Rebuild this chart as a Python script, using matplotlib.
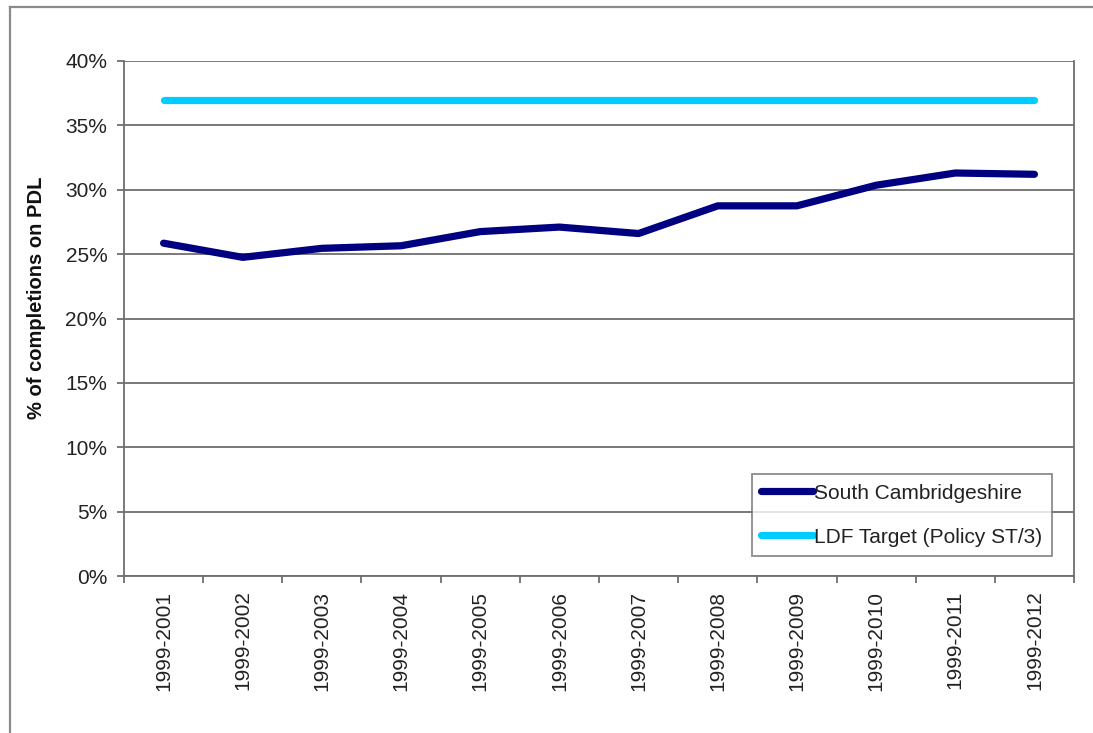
import matplotlib
matplotlib.use("Agg")
import matplotlib.pyplot as plt
from matplotlib.lines import Line2D
from matplotlib.ticker import FixedLocator, FuncFormatter

plt.rcParams['font.family'] = ['Liberation Sans', 'DejaVu Sans']

# Cumulative periods and share of completions on previously developed land
periods = ["1999-2001", "1999-2002", "1999-2003", "1999-2004", "1999-2005",
           "1999-2006", "1999-2007", "1999-2008", "1999-2009", "1999-2010",
           "1999-2011", "1999-2012"]
south_cambs = [25.85, 24.75, 25.45, 25.65, 26.75, 27.1, 26.6, 28.75, 28.75,
               30.35, 31.3, 31.2]
ldf_target = [37.0] * len(periods)
y_ticks = [0, 5, 10, 15, 20, 25, 30, 35, 40]

W, H = 1093, 733
fig = plt.figure(figsize=(W / 100, H / 100), dpi=100)
ax = fig.add_axes([124 / W, 1 - 576 / H, (1074 - 124) / W, (576 - 61) / H])

x = list(range(len(periods)))
grid_col = "#6e6e6e"
text_col = "#222222"

ax.plot(x, south_cambs, color="#000080", lw=5.2, solid_capstyle="round",
        solid_joinstyle="round", label="South Cambridgeshire", zorder=3)
ax.plot(x, ldf_target, color="#00CCFF", lw=5.2, solid_capstyle="round",
        label="LDF Target (Policy ST/3)", zorder=3)

ax.set_xlim(-0.5, len(periods) - 0.5)
ax.set_ylim(0, 40)
ax.set_yticks(y_ticks)
ax.yaxis.set_major_formatter(FuncFormatter(lambda v, p: f"{v:.0f}%"))
ax.grid(axis="y", color=grid_col, lw=1.3, zorder=1)

ax.set_xticks(x)
ax.set_xticklabels(periods, rotation=90)
ax.xaxis.set_minor_locator(FixedLocator([i - 0.5 for i in range(len(periods) + 1)]))
ax.tick_params(axis="x", which="major", length=0, pad=10.5, labelsize=15,
               colors=text_col)
ax.tick_params(axis="x", which="minor", length=5, width=1.3, color=grid_col,
               direction="out")
ax.tick_params(axis="y", length=5, width=1.3, color=grid_col, pad=7,
               labelsize=15, labelcolor=text_col)

for side in ("left", "bottom", "right"):
    ax.spines[side].set_color(grid_col)
    ax.spines[side].set_linewidth(1.3)
ax.spines["top"].set_visible(False)

fig.text(37 / W, 1 - 298 / H, "% of completions on PDL", rotation=90,
         ha="center", va="center", fontsize=14.5, fontweight="bold",
         color="#111111")

leg = ax.legend(loc="lower right",
                bbox_to_anchor=((1052 - 124) / 950, (576 - 556) / 515),
                borderaxespad=0, fontsize=15, frameon=True, fancybox=False,
                handlelength=2.5, handletextpad=0.05, labelspacing=1.2,
                borderpad=0.45)
leg.get_frame().set_edgecolor(grid_col)
leg.get_frame().set_linewidth(1.3)
for t in leg.get_texts():
    t.set_color(text_col)

# Outer frame (left and top edges)
fig.add_artist(Line2D([10 / W, 10 / W], [0, 1 - 7 / H], transform=fig.transFigure,
                      color="#8a8a8a", lw=1.6))
fig.add_artist(Line2D([10 / W, 1], [1 - 7 / H, 1 - 7 / H], transform=fig.transFigure,
                      color="#8a8a8a", lw=1.6))

fig.savefig("out.png", dpi=100)
